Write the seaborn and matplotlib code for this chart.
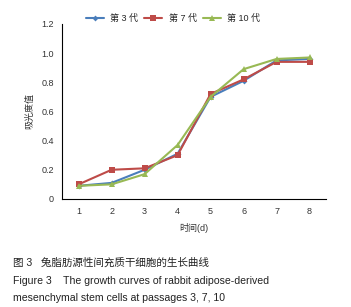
import numpy as np
import pandas as pd
import matplotlib.pyplot as plt
import seaborn as sns

# data
days = [1, 2, 3, 4, 5, 6, 7, 8]
p3 = [0.09, 0.11, 0.20, 0.31, 0.70, 0.81, 0.95, 0.96]
p7 = [0.10, 0.20, 0.21, 0.30, 0.72, 0.82, 0.94, 0.94]
p10 = [0.09, 0.10, 0.17, 0.37, 0.70, 0.89, 0.96, 0.97]
labels = ['第 3 代', '第 7 代', '第 10 代']
yticks = [0, 0.2, 0.4, 0.6, 0.8, 1.0, 1.2]
ytick_labels = ['0', '0.2', '0.4', '0.6', '0.8', '1.0', '1.2']

df = pd.DataFrame({
    'day': days * 3,
    'od': p3 + p7 + p10,
    'passage': [labels[0]] * 8 + [labels[1]] * 8 + [labels[2]] * 8,
})

sns.set_style('white')
plt.rcParams['font.family'] = ['Liberation Sans', 'Noto Sans CJK SC']

fig = plt.figure(figsize=(3.51, 3.07), dpi=100)
ax = fig.add_axes([0.177, 0.352, 0.752, 0.570])

colors = {labels[0]: '#4A7EBB', labels[1]: '#BE4B48', labels[2]: '#98B954'}
markers = {labels[0]: 'D', labels[1]: 's', labels[2]: '^'}

sns.lineplot(data=df, x='day', y='od', hue='passage', style='passage',
             palette=colors, markers=markers, dashes=False, linewidth=1.5,
             markersize=5, markeredgewidth=0, ax=ax)
# smaller diamond for passage 3
ax.lines[0].set_markersize(3)

ax.set_xlim(0.5, 8.5)
ax.set_ylim(0, 1.2)
ax.set_xticks(days)
ax.set_yticks(yticks)
ax.set_yticklabels(ytick_labels)
ax.tick_params(axis='both', labelsize=6.5, colors='#333333', length=0, pad=6)
for s in ['top', 'right']:
    ax.spines[s].set_visible(False)
for s in ['left', 'bottom']:
    ax.spines[s].set_color('black')
    ax.spines[s].set_linewidth(0.8)

ax.set_xlabel('时间(d)', fontsize=6.5, color='#333333', labelpad=5)
ax.set_ylabel('吸光度值', fontsize=6.5, color='#333333', labelpad=5)

handles, lbls = ax.get_legend_handles_labels()
handles[0].set_markersize(3)
ax.legend(handles, lbls, loc='lower center', bbox_to_anchor=(0.42, 0.985),
          ncol=3, frameon=False, fontsize=6.5, handlelength=2.0,
          columnspacing=0.7, handletextpad=0.7, borderaxespad=0)

fig.text(0.037, 0.134, '图 3   兔脂肪源性间充质干细胞的生长曲线', fontsize=7.6, color='#222222')
fig.text(0.037, 0.075, 'Figure 3    The growth curves of rabbit adipose-derived', fontsize=7.6, color='#222222')
fig.text(0.037, 0.019, 'mesenchymal stem cells at passages 3, 7, 10', fontsize=7.6, color='#222222')

fig.savefig('out.png', dpi=100)
